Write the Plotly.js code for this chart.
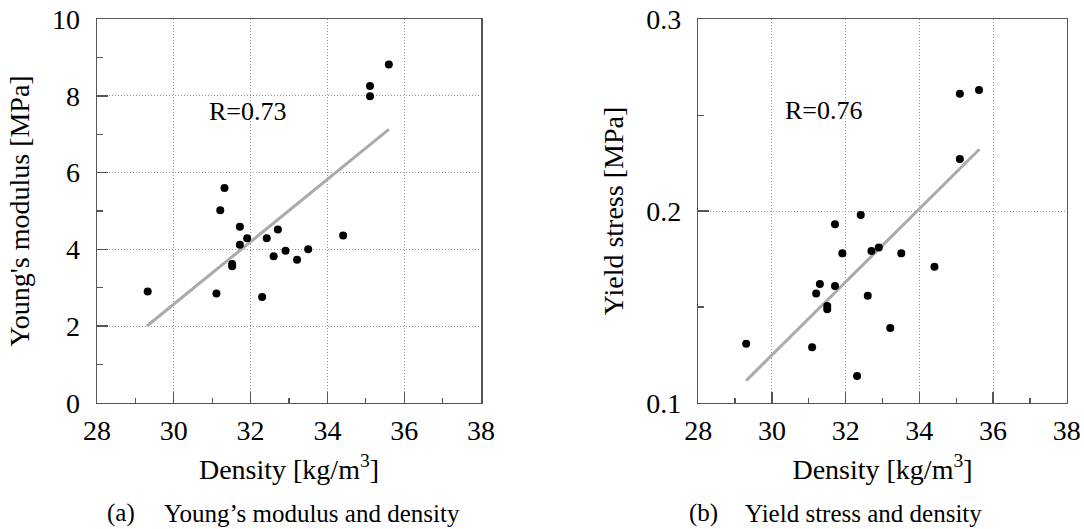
<!DOCTYPE html>
<html>
<head>
<meta charset="utf-8">
<script src="https://cdn.plot.ly/plotly-3.0.1.min.js"></script>
<style>
html,body{margin:0;padding:0;background:#fff;}
#chart{width:1084px;height:529px;}
svg text{font-family:'Liberation Serif','Times New Roman',Times,serif !important;}
</style>
</head>
<body>
<div id="chart"></div>
<script>
// ---- data ----
const densityA = [35.60, 35.11, 35.11, 31.32, 31.21, 31.72, 31.91, 31.72, 32.42, 32.71,
                  32.91, 32.60, 33.21, 33.50, 34.41, 31.52, 31.52, 31.11, 32.30, 29.32];
const youngsModulus = [8.82, 8.26, 7.99, 5.60, 5.02, 4.59, 4.29, 4.12, 4.29, 4.52,
                       3.96, 3.82, 3.73, 4.00, 4.36, 3.62, 3.56, 2.85, 2.76, 2.90];
const fitAx = [29.3, 35.6];
const fitAy = [2.00, 7.13];

const densityB = [35.62, 35.10, 35.10, 32.41, 31.71, 31.91, 32.70, 32.90, 33.51, 34.41,
                  31.30, 31.71, 31.20, 32.60, 31.50, 31.50, 33.21, 29.30, 31.09, 32.31];
const yieldStress = [0.2631, 0.2612, 0.2271, 0.1979, 0.1931, 0.1779, 0.1791, 0.1809, 0.1779, 0.1709,
                     0.1619, 0.1609, 0.1569, 0.1558, 0.1504, 0.1488, 0.1390, 0.1308, 0.1289, 0.1139];
const fitBx = [29.3, 35.63];
const fitBy = [0.1115, 0.2322];

const rLabelA = 'R=0.73';
const rLabelB = 'R=0.76';
const xTitle = 'Density [kg/m<sup>3</sup>]';
const yTitleA = "Young's modulus [MPa]";
const yTitleB = 'Yield stress [MPa]';
const captionA = ['(a)', 'Young’s modulus and density'];
const captionB = ['(b)', 'Yield stress and density'];

// ---- layout helpers ----
const W = 1084, H = 529;
const px = v => v / W;
const py = v => 1 - v / H;
const FONT = "Liberation Serif";
const frame = '#555555';
const grid = {showgrid: true, gridcolor: '#9a9a9a', gridwidth: 1, griddash: '1px,2px'};

function xAxis(domain, anchor) {
  return Object.assign({
    domain: domain, anchor: anchor, range: [28, 38], dtick: 2, tick0: 28,
    showline: true, mirror: true, linecolor: frame, linewidth: 1.5,
    ticks: 'inside', ticklen: 11, tickwidth: 1.3, tickcolor: frame,
    minor: {dtick: 1, ticks: 'inside', ticklen: 5, tickwidth: 1.3, tickcolor: frame, showgrid: false},
    zeroline: false, tickfont: {family: FONT, size: 28, color: '#000'},
    ticklabelstandoff: 2,
    title: {text: xTitle, font: {family: FONT, size: 28, color: '#000'}, standoff: 14},
    automargin: false, fixedrange: true
  }, grid);
}
function yAxis(domain, anchor, range, dtick, minorDtick, fmt, title) {
  return Object.assign({
    domain: domain, anchor: anchor, range: range, dtick: dtick, tick0: range[0],
    showline: true, mirror: true, linecolor: frame, linewidth: 1.5,
    ticks: 'inside', ticklen: 11, tickwidth: 1.3, tickcolor: frame,
    minor: {dtick: minorDtick, ticks: 'inside', ticklen: 6, tickwidth: 1.3, tickcolor: frame, showgrid: false},
    zeroline: false, tickformat: fmt, tickfont: {family: FONT, size: 28, color: '#000'},
    ticklabelstandoff: 10,
    title: {text: title, font: {family: FONT, size: 28, color: '#000'}, standoff: 14},
    automargin: false, fixedrange: true
  }, grid);
}

const yDom = [py(402.7), py(19.3)];

const traces = [
  {x: fitAx, y: fitAy, xaxis: 'x', yaxis: 'y', mode: 'lines',
   line: {color: '#aaaaaa', width: 3}, hoverinfo: 'skip'},
  {x: densityA, y: youngsModulus, xaxis: 'x', yaxis: 'y', mode: 'markers',
   marker: {color: '#000', size: 8}},
  {x: fitBx, y: fitBy, xaxis: 'x2', yaxis: 'y2', mode: 'lines',
   line: {color: '#aaaaaa', width: 3}, hoverinfo: 'skip'},
  {x: densityB, y: yieldStress, xaxis: 'x2', yaxis: 'y2', mode: 'markers',
   marker: {color: '#000', size: 8}}
];

const capFont = {family: FONT, size: 25, color: '#000'};
const layout = {
  width: W, height: H, showlegend: false,
  font: {family: FONT, color: '#000'},
  margin: {l: 0, r: 0, t: 0, b: 0, pad: 0},
  paper_bgcolor: '#fff', plot_bgcolor: '#fff',
  xaxis: xAxis([px(97), px(481)], 'y'),
  yaxis: yAxis(yDom, 'x', [0, 10], 2, 1, 'd', yTitleA),
  xaxis2: xAxis([px(698.3), px(1066.7)], 'y2'),
  yaxis2: yAxis(yDom, 'x2', [0.1, 0.3], 0.1, 0.05, '.1f', yTitleB),
  annotations: [
    {xref: 'x', yref: 'y', x: 31.93, y: 7.6, text: rLabelA, showarrow: false,
     xanchor: 'center', yanchor: 'middle', font: {family: FONT, size: 26, color: '#000'}},
    {xref: 'x2', yref: 'y2', x: 31.41, y: 0.2522, text: rLabelB, showarrow: false,
     xanchor: 'center', yanchor: 'middle', font: {family: FONT, size: 26, color: '#000'}},
    {xref: 'paper', yref: 'paper', x: px(121), y: py(513), text: captionA[0], showarrow: false,
     xanchor: 'center', yanchor: 'middle', font: capFont},
    {xref: 'paper', yref: 'paper', x: px(162), y: py(513), text: captionA[1], showarrow: false,
     xanchor: 'left', yanchor: 'middle', font: capFont},
    {xref: 'paper', yref: 'paper', x: px(703), y: py(513), text: captionB[0], showarrow: false,
     xanchor: 'center', yanchor: 'middle', font: capFont},
    {xref: 'paper', yref: 'paper', x: px(743), y: py(513), text: captionB[1], showarrow: false,
     xanchor: 'left', yanchor: 'middle', font: capFont}
  ]
};

Plotly.newPlot('chart', traces, layout, {displayModeBar: false, staticPlot: true});
</script>
</body>
</html>
